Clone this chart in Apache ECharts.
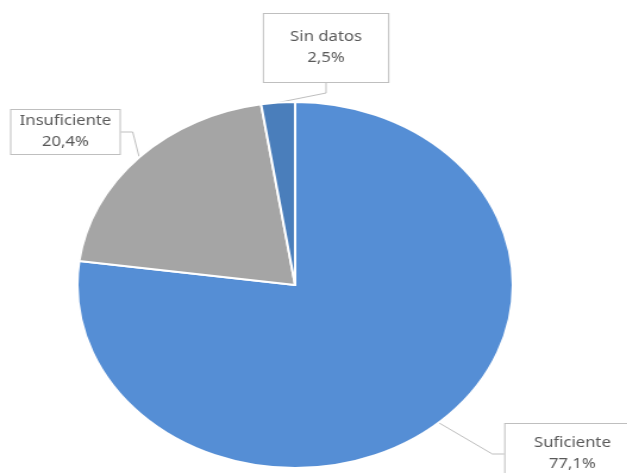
<!DOCTYPE html>
<html>
<head>
<meta charset="utf-8">
<script src="https://cdn.jsdelivr.net/npm/echarts@6/dist/echarts.min.js"></script>
<style>
html,body{margin:0;padding:0;background:#fff;overflow:hidden;}
#wrap{width:627px;height:473px;overflow:hidden;position:relative;}
#chart{width:527px;height:473px;transform:scaleX(1.19);transform-origin:0 0;}
</style>
</head>
<body>
<div id="wrap"><div id="chart"></div></div>
<script>
const categories = ['Suficiente', 'Insuficiente', 'Sin datos'];
const values = [77.1, 20.4, 2.5];
const colors = ['#558ED5', '#A5A5A5', '#4A7EBB'];

const labelPos = [
  {x: 481, y: 454, pad: [9, 24]},
  {x: 55, y: 132, pad: [1, 7]},
  {x: 274, y: 48, pad: [13, 22]}
];

const chart = echarts.init(document.getElementById('chart'), null, {renderer: 'canvas'});
chart.setOption({
  animation: false,
  backgroundColor: '#fff',
  series: [{
    type: 'pie',
    center: [248, 285],
    radius: 183,
    startAngle: 90,
    clockwise: true,
    avoidLabelOverlap: false,
    itemStyle: {borderColor: '#fff', borderWidth: 2},
    label: {
      show: true,
      position: 'outside',
      fontFamily: 'Noto Sans',
      fontSize: 14,
      lineHeight: 21,
      color: '#595959',
      align: 'center',
      backgroundColor: '#fff',
      borderColor: '#BFBFBF',
      borderWidth: 1,
      formatter: p => p.name + '\n' + p.value.toFixed(1).replace('.', ',') + '%'
    },
    labelLine: {show: true, length: 10, length2: 10, lineStyle: {color: '#BFBFBF', width: 1}},
    labelLayout: function (params) {
      const lp = labelPos[params.dataIndex];
      return {x: lp.x, y: lp.y, align: 'center', verticalAlign: 'middle'};
    },
    data: categories.map((c, i) => ({
      name: c,
      value: values[i],
      itemStyle: {color: colors[i]},
      label: {padding: labelPos[i].pad}
    }))
  }]
});
</script>
</body>
</html>
